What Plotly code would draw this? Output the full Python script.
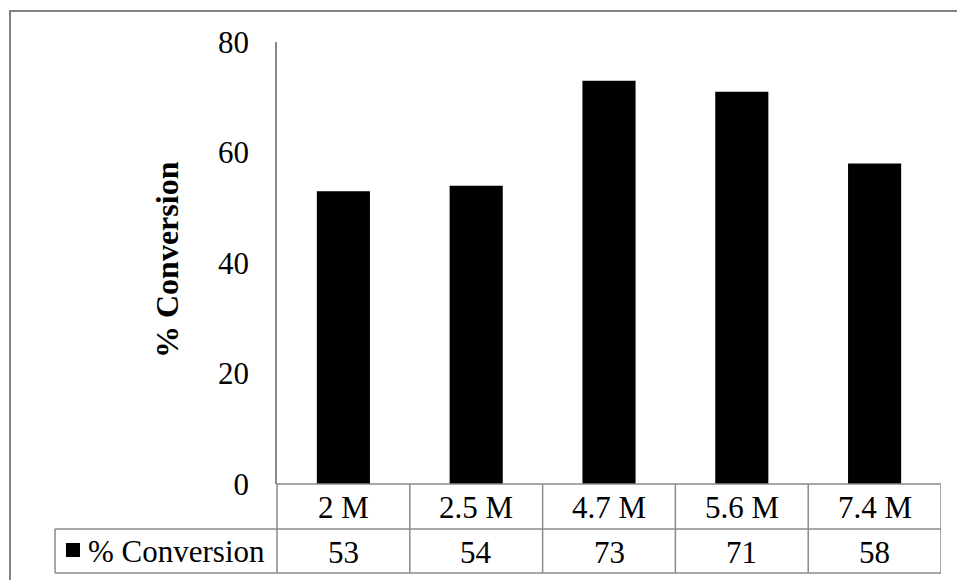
import plotly.graph_objects as go

# Data
categories = ["2 M", "2.5 M", "4.7 M", "5.6 M", "7.4 M"]
conversion = [53, 54, 73, 71, 58]
series_name = "% Conversion"
y_ticks = [0, 20, 40, 60, 80]

W, H = 957, 580
L, R, T, B = 277, 941, 42, 484  # plot area in pixels
FONT = "Liberation Serif, Times New Roman, serif"
LINE = "#8a8a8a"


def px(x):
    return (x - L) / (R - L)


def py(y):
    return (B - y) / (B - T)


fig = go.Figure(
    go.Bar(
        x=categories,
        y=conversion,
        marker=dict(color="black", line=dict(width=0)),
        name=series_name,
        showlegend=False,
    )
)

shapes = []
# outer chart border (left and top visible)
shapes.append(dict(type="rect", xref="paper", yref="paper",
                   x0=px(10), x1=px(975), y0=py(600), y1=py(11),
                   line=dict(color="#828282", width=2)))
# data table horizontal rules
for yy, x0 in [(484, 277), (529, 55), (573, 55)]:
    shapes.append(dict(type="line", xref="paper", yref="paper",
                       x0=px(x0), x1=1, y0=py(yy), y1=py(yy),
                       line=dict(color=LINE, width=1.5)))
# left edge of the legend cell and axis extension through the table
shapes.append(dict(type="line", xref="paper", yref="paper",
                   x0=px(55), x1=px(55), y0=py(529), y1=py(573),
                   line=dict(color=LINE, width=1.5)))
shapes.append(dict(type="line", xref="paper", yref="paper",
                   x0=0, x1=0, y0=py(484), y1=py(573),
                   line=dict(color=LINE, width=1.5)))
# column separators between categories
for i in range(len(categories)):
    shapes.append(dict(type="line", xref="x", yref="paper",
                       x0=i + 0.5, x1=i + 0.5, y0=py(484), y1=py(573),
                       line=dict(color=LINE, width=1.5)))
# legend key
shapes.append(dict(type="rect", xref="paper", yref="paper",
                   x0=px(66), x1=px(80), y0=py(557), y1=py(543),
                   fillcolor="black", line=dict(width=0)))

annotations = []
for c, v in zip(categories, conversion):
    annotations.append(dict(x=c, xref="x", y=py(507), yref="paper",
                            text=c, showarrow=False, yanchor="middle",
                            font=dict(family=FONT, size=31, color="black")))
    annotations.append(dict(x=c, xref="x", y=py(552), yref="paper",
                            text=str(v), showarrow=False, yanchor="middle",
                            font=dict(family=FONT, size=31, color="black")))
annotations.append(dict(x=px(86), xref="paper", y=py(551), yref="paper",
                        text=series_name, showarrow=False,
                        xanchor="left", yanchor="middle",
                        font=dict(family=FONT, size=31, color="black")))
annotations.append(dict(x=px(167), xref="paper", y=py(260), yref="paper",
                        text="<b>% Conversion</b>", showarrow=False,
                        textangle=-90, xanchor="center", yanchor="middle",
                        font=dict(family=FONT, size=32, color="black")))

fig.update_layout(
    width=W, height=H, autosize=False,
    margin=dict(l=L, r=W - R, t=T, b=H - B, pad=0),
    paper_bgcolor="white", plot_bgcolor="white",
    bargap=0.6,
    shapes=shapes,
    annotations=annotations,
    font=dict(family=FONT, size=31, color="black"),
    xaxis=dict(type="category", range=[-0.5, len(categories) - 0.5],
               showticklabels=False, ticks="", showgrid=False,
               showline=False, zeroline=False, fixedrange=True),
    yaxis=dict(range=[0, 80], tickvals=y_ticks, ticks="",
               showgrid=False, zeroline=False,
               showline=True, linecolor=LINE, linewidth=1.5,
               ticklabelstandoff=20,
               tickfont=dict(family=FONT, size=31, color="black")),
)

fig.write_html("out.html")
